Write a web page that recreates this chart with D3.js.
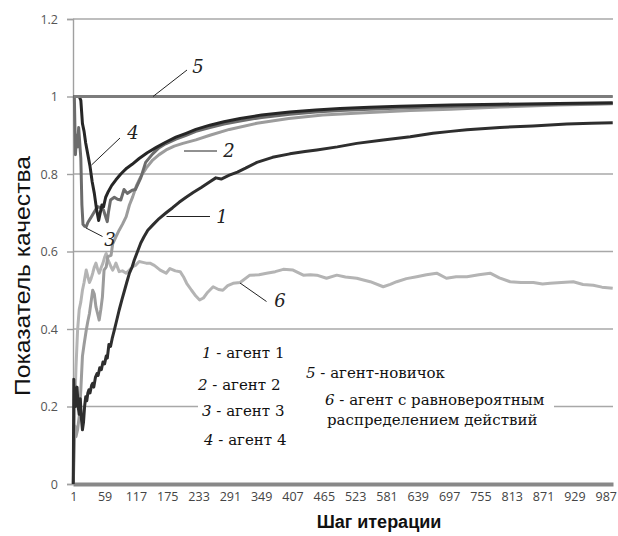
<!DOCTYPE html>
<html><head><meta charset="utf-8">
<script src="https://cdn.jsdelivr.net/npm/d3@7/dist/d3.min.js"></script>
<style>body{margin:0;background:#fff}svg{display:block}
.serif{font-family:'DejaVu Serif','Liberation Serif','Times New Roman',serif}</style>
</head><body><svg id="c" width="618" height="536"></svg>
<script>
const xTickLabels = [1,59,117,175,233,291,349,407,465,523,581,639,697,755,813,871,929,987];
const yTickValues = [0,0.2,0.4,0.6,0.8,1,1.2];

const steps1 = [1,2,3,5,8,10,12,14,16,18,20,22,24,26,28,30,32,35,37,39,42,45,47,50,53,56,59,62,64,67,70,73,77,81,86,91,96,100,105,110,114,120,126,132,139,148,160,173,185,197,210,223,238,254,265,275,290,305,320,341,370,402,430,452,490,526,575,625,667,700,730,791,852,915,960,1000];
const agent1 = [0,0.27,0.22,0.2,0.25,0.2,0.18,0.22,0.17,0.14,0.16,0.2,0.225,0.215,0.235,0.243,0.235,0.255,0.26,0.25,0.275,0.285,0.28,0.3,0.295,0.315,0.31,0.33,0.325,0.36,0.355,0.375,0.397,0.42,0.449,0.475,0.5,0.52,0.544,0.56,0.578,0.6,0.622,0.638,0.655,0.668,0.685,0.7,0.713,0.727,0.74,0.752,0.765,0.78,0.79,0.787,0.797,0.805,0.815,0.83,0.843,0.852,0.858,0.862,0.87,0.879,0.888,0.896,0.905,0.91,0.914,0.92,0.924,0.929,0.931,0.932];

const steps2 = [1,4,6,9,12,15,18,21,25,28,31,34,37,40,43,46,49,52,55,58,62,65,71,74,80,86,92,99,105,111,118,126,136,148,160,173,188,204,228,254,290,341,400,463,540,625,700,791,900,1000];
const agent2 = [0,0.15,0.122,0.14,0.174,0.243,0.33,0.36,0.397,0.42,0.44,0.47,0.5,0.49,0.457,0.44,0.423,0.45,0.483,0.552,0.56,0.587,0.59,0.62,0.638,0.655,0.67,0.69,0.72,0.741,0.77,0.793,0.815,0.836,0.85,0.862,0.872,0.879,0.888,0.9,0.915,0.931,0.943,0.952,0.958,0.964,0.967,0.973,0.978,0.981];

const steps3 = [1,3,5,7,9,11,13,15,17,19,22,25,28,33,39,46,52,57,62,64,66,70,77,83,89,95,101,110,116,126,135,148,160,172,191,210,228,254,280,310,350,402,450,495,550,606,700,791,900,1000];
const agent3 = [1,1,0.85,0.9,0.87,0.92,0.88,0.84,0.72,0.67,0.665,0.664,0.675,0.686,0.7,0.716,0.713,0.707,0.685,0.677,0.7,0.733,0.74,0.735,0.733,0.76,0.75,0.758,0.76,0.79,0.83,0.852,0.868,0.878,0.89,0.9,0.91,0.92,0.929,0.937,0.946,0.954,0.96,0.964,0.967,0.97,0.974,0.977,0.98,0.982];

const steps4 = [1,12,15,18,21,24,28,32,36,40,44,48,51,54,57,61,66,72,80,89,100,110,123,138,154,172,191,210,228,254,280,310,350,402,450,495,550,606,700,791,900,1000];
const agent4 = [1,1,0.99,0.93,0.91,0.88,0.85,0.82,0.78,0.75,0.71,0.68,0.7,0.72,0.715,0.74,0.755,0.77,0.785,0.8,0.815,0.825,0.84,0.855,0.868,0.882,0.895,0.905,0.915,0.926,0.935,0.943,0.952,0.96,0.965,0.969,0.972,0.975,0.978,0.98,0.982,0.984];

const steps5 = [1,1000];
const agent5 = [1,1];

const steps6 = [1,2,4,6,9,12,15,18,21,25,28,31,34,37,40,43,46,49,52,56,59,62,65,68,71,74,77,80,86,92,99,105,111,117,123,130,136,143,150,154,162,173,180,190,199,205,211,220,228,235,242,250,260,270,278,287,297,310,328,345,359,375,390,408,427,440,452,470,489,505,526,540,551,575,588,600,618,637,655,674,692,710,730,752,773,790,810,830,853,870,884,905,927,945,964,980,1000];
const agent6 = [0,0.11,0.21,0.3,0.397,0.45,0.47,0.5,0.52,0.552,0.535,0.52,0.53,0.544,0.56,0.57,0.555,0.544,0.556,0.57,0.585,0.595,0.58,0.57,0.56,0.552,0.56,0.57,0.548,0.55,0.544,0.552,0.561,0.565,0.574,0.572,0.57,0.57,0.565,0.561,0.552,0.544,0.556,0.55,0.548,0.535,0.518,0.5,0.485,0.475,0.48,0.495,0.509,0.502,0.5,0.512,0.518,0.52,0.539,0.54,0.544,0.548,0.554,0.552,0.539,0.54,0.539,0.531,0.539,0.534,0.531,0.526,0.522,0.509,0.515,0.522,0.53,0.535,0.54,0.544,0.531,0.535,0.535,0.54,0.544,0.532,0.522,0.52,0.52,0.516,0.518,0.52,0.522,0.515,0.513,0.508,0.505];

const legendLeft = [["1"," - агент 1"],["2"," - агент 2"],["3"," - агент 3"],["4"," - агент 4"]];
const legendRight = [["5"," - агент-новичок"],["6"," - агент с равновероятным"],["","распределением действий"]];

const svg = d3.select("#c");
const x = d3.scaleLinear().domain([0.5, 1000.5]).range([73, 613]);
const y = d3.scaleLinear().domain([0, 1.2]).range([484, 19]);

svg.append("g").selectAll("line").data(yTickValues.filter(v => v > 0)).join("line")
  .attr("x1", 73).attr("x2", 613).attr("y1", d => y(d)).attr("y2", d => y(d))
  .attr("stroke", "#a8a8a8").attr("stroke-width", 1.4);

const yAxis = svg.append("g").attr("transform", "translate(73,0)")
  .call(d3.axisLeft(y).tickValues(yTickValues).tickSize(6).tickPadding(9).tickFormat(d => String(d)));
yAxis.select(".domain").attr("stroke", "#a0a0a0").attr("stroke-width", 1.4);
yAxis.selectAll(".tick line").attr("stroke", "#a0a0a0").attr("stroke-width", 1.4);
yAxis.selectAll(".tick text").attr("font-family", "'Open Sans', sans-serif").attr("font-size", 12.5).attr("fill", "#555");

const xAxis = svg.append("g").attr("transform", "translate(0,484)")
  .call(d3.axisBottom(x).tickValues(xTickLabels).tickSize(0).tickPadding(8).tickFormat(d => String(d)));
xAxis.select(".domain").attr("stroke", "#888").attr("stroke-width", 4);
xAxis.selectAll(".tick text").attr("font-family", "'Open Sans', sans-serif").attr("font-size", 12.5).attr("fill", "#444");

const line = d3.line().x(d => x(d[0])).y(d => y(d[1]));
const zip = (s, v) => s.map((t, i) => [t, v[i]]);
const series = [
  {data: zip(steps6, agent6), color: "#b4b4b4", w: 3},
  {data: zip(steps2, agent2), color: "#9c9c9c", w: 3},
  {data: zip(steps3, agent3), color: "#6c6c6c", w: 3},
  {data: zip(steps1, agent1), color: "#2e2e2e", w: 3},
  {data: zip(steps4, agent4), color: "#262626", w: 3},
  {data: zip(steps5, agent5), color: "#7c7c7c", w: 3}
];
svg.append("g").selectAll("path").data(series).join("path")
  .attr("d", d => line(d.data)).attr("fill", "none")
  .attr("stroke", d => d.color).attr("stroke-width", d => d.w)
  .attr("stroke-linejoin", "round");

svg.append("rect").attr("x", 198).attr("y", 340).attr("width", 356).attr("height", 112).attr("fill", "#fff");

const leftY = [353, 385, 411, 440];
const leftX = [202, 198, 202, 204];
legendLeft.forEach((p, i) => {
  const t = svg.append("text").attr("class", "serif").attr("x", leftX[i]).attr("y", leftY[i]).attr("dy", "0.35em")
    .attr("font-size", 15).attr("fill", "#111");
  t.append("tspan").attr("font-style", "italic").text(p[0]);
  t.append("tspan").text(p[1]);
});
const rightY = [373, 400, 420];
const rightX = [306, 325, 327];
legendRight.forEach((p, i) => {
  const t = svg.append("text").attr("class", "serif").attr("x", rightX[i]).attr("y", rightY[i]).attr("dy", "0.35em")
    .attr("font-size", 15).attr("fill", "#111");
  if (p[0]) t.append("tspan").attr("font-style", "italic").text(p[0]);
  t.append("tspan").text(p[1]);
});

const callouts = [
  {n: "5", x1: 153, y1: 96.5, x2: 187, y2: 70, tx: 198, ty: 67},
  {n: "4", x1: 91.5, y1: 165, x2: 120, y2: 138, tx: 133, ty: 133},
  {n: "3", x1: 86, y1: 228, x2: 102.5, y2: 236.5, tx: 110, ty: 240},
  {n: "2", x1: 184, y1: 151, x2: 217, y2: 151, tx: 229, ty: 151},
  {n: "1", x1: 166.5, y1: 216.5, x2: 210, y2: 216.5, tx: 222, ty: 216.5},
  {n: "6", x1: 240, y1: 283, x2: 266.5, y2: 301.5, tx: 280, ty: 301}
];
const cg = svg.append("g");
callouts.forEach(c => {
  cg.append("line").attr("x1", c.x1).attr("y1", c.y1).attr("x2", c.x2).attr("y2", c.y2)
    .attr("stroke", "#222").attr("stroke-width", 1);
  cg.append("text").attr("class", "serif").attr("x", c.tx).attr("y", c.ty).attr("dy", "0.35em").attr("text-anchor", "middle")
    .attr("font-style", "italic").attr("font-size", 18).attr("fill", "#222").text(c.n);
});

svg.append("text").attr("transform", "translate(22,276) rotate(-90)").attr("text-anchor", "middle")
  .attr("dy", "0.35em").attr("font-family", "'Liberation Sans', Arial, sans-serif").attr("font-size", 22)
  .attr("textLength", 240).attr("lengthAdjust", "spacingAndGlyphs")
  .attr("fill", "#111").text("Показатель качества");
svg.append("text").attr("x", 379).attr("y", 522).attr("text-anchor", "middle").attr("dy", "0.35em")
  .attr("font-family", "'Liberation Sans', Arial, sans-serif").attr("font-weight", "bold").attr("font-size", 18)
  .attr("fill", "#111").text("Шаг итерации");
</script></body></html>
